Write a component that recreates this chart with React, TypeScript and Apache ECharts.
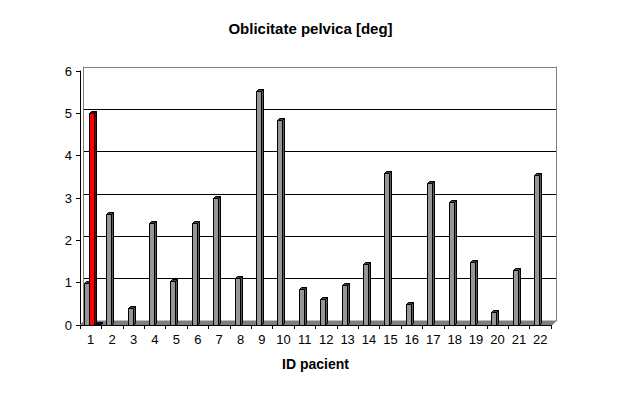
import React, { useEffect, useRef } from "react";
import * as echarts from "echarts";

const categories = ["1","2","3","4","5","6","7","8","9","10","11","12","13","14","15","16","17","18","19","20","21","22"];
const greyValues = [1.0, 2.62, 0.4, 2.42, 1.05, 2.42, 3.0, 1.1, 5.52, 4.85, 0.85, 0.62, 0.95, 1.43, 3.58, 0.5, 3.35, 2.9, 1.5, 0.3, 1.3, 3.55];
const redValues = [5.0];
const blueValues = [0.03];

function makeRender(fill: string, side: string, topc: string, offsetFn: (i: number) => number) {
  return (params: any, api: any) => {
    const idx = api.value(0);
    const v = api.value(1);
    const top = api.coord([idx, v]);
    const base = api.coord([idx, 0]);
    const w = 5;
    const d = 2;
    const x = Math.round(top[0] - w / 2 + offsetFn(params.dataIndex)) + 0.5;
    const ty = Math.round(top[1]) + 0.5;
    const by = Math.round(base[1]) + 0.5;
    return {
      type: "group",
      children: [
        {
          type: "polygon",
          shape: { points: [[x + w, ty], [x + w + d, ty - d], [x + w + d, by - d], [x + w, by]] },
          style: { fill: side, stroke: "#000", lineWidth: 1 },
        },
        {
          type: "polygon",
          shape: { points: [[x, ty], [x + d, ty - d], [x + w + d, ty - d], [x + w, ty]] },
          style: { fill: topc, stroke: "#000", lineWidth: 1 },
        },
        {
          type: "rect",
          shape: { x, y: ty, width: w, height: by - ty },
          style: { fill, stroke: "#000", lineWidth: 1 },
        },
      ],
    };
  };
}

export default function App() {
  const ref = useRef<HTMLDivElement>(null);
  useEffect(() => {
    if (!ref.current) return;
    const chart = echarts.init(ref.current, undefined, { renderer: "svg" });
    const font = "'Liberation Sans', Arial, sans-serif";
    const option: any = {
      animation: false,
      backgroundColor: "#ffffff",
      title: {
        text: "Oblicitate pelvica [deg]",
        left: "center",
        top: 16,
        textStyle: { fontFamily: font, fontSize: 15, fontWeight: "bold", color: "#000" },
      },
      grid: [
        { left: 80, top: 71, width: 471, height: 254 },
        { left: 83, top: 67, width: 473, height: 254 },
      ],
      xAxis: [
        {
          type: "category",
          gridIndex: 0,
          data: categories,
          axisLine: { lineStyle: { color: "#000", width: 1 } },
          axisTick: { show: true, length: 4, lineStyle: { color: "#000" } },
          axisLabel: { color: "#000", fontFamily: font, fontSize: 13, margin: 8 },
          name: "ID pacient",
          nameLocation: "middle",
          nameGap: 32,
          nameTextStyle: { fontFamily: font, fontSize: 14, fontWeight: "bold", color: "#000" },
          z: 5,
        },
        {
          type: "category",
          gridIndex: 1,
          data: categories,
          show: false,
        },
      ],
      yAxis: [
        {
          type: "value",
          gridIndex: 0,
          min: 0,
          max: 6,
          interval: 1,
          axisLine: { show: true, lineStyle: { color: "#000" } },
          axisTick: { show: true, length: 4, lineStyle: { color: "#000" } },
          axisLabel: { color: "#000", fontFamily: font, fontSize: 13, margin: 8 },
          splitLine: { show: false },
        },
        {
          type: "value",
          gridIndex: 1,
          min: 0,
          max: 6,
          interval: 1,
          axisLine: { show: true, lineStyle: { color: "#808080" } },
          axisTick: { show: false },
          axisLabel: { show: false },
          splitLine: {
            show: true,
            lineStyle: { color: ["#808080", "#000", "#000", "#000", "#000", "#000", "#808080"], width: 1 },
          },
        },
        {
          type: "value",
          gridIndex: 1,
          position: "right",
          min: 0,
          max: 6,
          interval: 1,
          axisLine: { show: true, lineStyle: { color: "#808080" } },
          axisTick: { show: false },
          axisLabel: { show: false },
          splitLine: { show: false },
        },
      ],
      graphic: [
        {
          type: "polygon",
          z: 1,
          shape: { points: [[80, 325], [84, 321], [556, 321], [552, 325]] },
          style: { fill: "#808080", stroke: "#808080", lineWidth: 1 },
        },
      ],
      series: [
        {
          type: "custom",
          xAxisIndex: 0,
          yAxisIndex: 0,
          z: 10,
          renderItem: makeRender("#969696", "#5a5a5a", "#404040", (i) => (i === 0 ? -4 : -3.5)),
          data: greyValues.map((v, i) => [i, v]),
        },
        {
          type: "custom",
          xAxisIndex: 0,
          yAxisIndex: 0,
          z: 10,
          renderItem: makeRender("#ff0000", "#800000", "#600000", () => 1),
          data: redValues.map((v, i) => [i, v]),
        },
        {
          type: "custom",
          xAxisIndex: 0,
          yAxisIndex: 0,
          z: 10,
          renderItem: makeRender("#0000ff", "#000080", "#000060", () => 7),
          data: blueValues.map((v, i) => [i, v]),
        },
      ],
    };
    chart.setOption(option);
    return () => chart.dispose();
  }, []);
  return (
    <div
      ref={ref}
      style={{ position: "fixed", left: 0, top: 0, width: 621, height: 396, background: "#fff" }}
    />
  );
}
